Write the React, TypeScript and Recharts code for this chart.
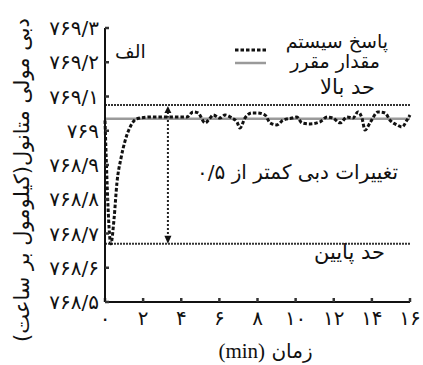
import React from "react";
import { LineChart, Line, XAxis, YAxis, ReferenceLine } from "recharts";

// time (min) and methanol molar flow of the system response
const timeMin = [0, 0.31, 0.47, 0.63, 0.84, 1.05, 1.31, 1.68, 2.36, 4.3, 4.62, 4.88, 5.25, 5.51, 5.67, 6.03, 6.3, 6.66, 6.92, 7.08, 7.34, 7.71, 7.97, 8.39, 8.66, 9.02, 9.34, 9.81, 10.07, 10.33, 10.75, 11.28, 11.65, 11.96, 12.33, 12.7, 13.01, 13.27, 13.48, 13.64, 13.9, 14.32, 14.69, 14.95, 15.32, 15.58, 15.84, 16];
const systemResponse = [769.03, 768.67, 768.74, 768.85, 768.92, 768.97, 769.01, 769.035, 769.04, 769.04, 769.055, 769.052, 769.023, 769.037, 769.046, 769.037, 769.046, 769.037, 769.026, 769.008, 769.037, 769.052, 769.052, 769.046, 769.023, 769.017, 769.031, 769.037, 769.04, 769.023, 769.02, 769.026, 769.04, 769.037, 769.023, 769.04, 769.037, 769.055, 769.037, 769.002, 769.023, 769.055, 769.052, 769.031, 769.017, 769.011, 769.031, 769.046];

const setPoint = 769.035;
const upperLimit = 769.075;
const lowerLimit = 768.67;
const arrowTime = 3.3;

const xTicks = [0, 2, 4, 6, 8, 10, 12, 14, 16];
const yTicks = [768.5, 768.6, 768.7, 768.8, 768.9, 769, 769.1, 769.2, 769.3];

const data = timeMin.map((t, i) => ({ t, response: systemResponse[i], setpoint: setPoint }));

const faDigits = "۰۱۲۳۴۵۶۷۸۹";
const toFa = (v: number, frac = 0) => {
  let s = v.toFixed(frac);
  if (frac > 0) s = s.replace(/\.0+$/, "");
  return s.replace(/[0-9]/g, (d) => faDigits[+d]).replace(".", "/");
};

const FA = "'DejaVu Sans', sans-serif";

const DoubleArrow = (props: any) => {
  const { x1, y1, y2 } = props;
  const top = Math.min(y1, y2);
  const bot = Math.max(y1, y2);
  return (
    <g>
      <line x1={x1} x2={x1} y1={top + 7} y2={bot - 7} stroke="#222" strokeWidth={2} strokeDasharray="2 2" />
      <polygon points={`${x1 - 3.5},${top + 8} ${x1 + 3.5},${top + 8} ${x1},${top + 1}`} fill="#111" />
      <polygon points={`${x1 - 3.5},${bot - 8} ${x1 + 3.5},${bot - 8} ${x1},${bot}`} fill="#111" />
    </g>
  );
};

const YLabel = ({ viewBox }: any) => {
  const cx = viewBox.x + 22;
  const cy = viewBox.y + viewBox.height / 2 + 15;
  return (
    <text x={cx} y={cy} transform={`rotate(-90 ${cx} ${cy})`} textAnchor="middle" dominantBaseline="central"
      direction="rtl" fontFamily={FA} fontSize={21} fill="#111">
      دبی مولی متانول(کیلومول بر ساعت)
    </text>
  );
};

const XLabel = ({ viewBox }: any) => (
  <text x={viewBox.x + viewBox.width / 2 + 8} y={viewBox.y + 49} textAnchor="middle" dominantBaseline="central" fill="#111">
    <tspan fontFamily="'Liberation Serif', serif" fontSize={21}>(min)</tspan>
    <tspan fontFamily={FA} fontSize={20}> زمان</tspan>
  </text>
);

const note = (style: React.CSSProperties): React.CSSProperties => ({
  position: "absolute", fontFamily: FA, direction: "rtl", whiteSpace: "nowrap", color: "#111", ...style,
});

export default function App() {
  return (
    <div style={{ position: "absolute", left: 0, top: 0, width: 423, height: 365, background: "#fff" }}>
      <LineChart width={423} height={365} data={data} margin={{ top: 28, right: 13, left: 0, bottom: 0 }}>
        <XAxis dataKey="t" type="number" domain={[0, 16]} ticks={xTicks} tickFormatter={(v) => toFa(v)}
          height={63} tickSize={-4} tickMargin={13} axisLine={{ stroke: "#111", strokeWidth: 2 }}
          tickLine={{ stroke: "#333", strokeWidth: 2.5 }} tick={{ fill: "#111", fontSize: 20, fontFamily: FA }}
          label={{ content: XLabel }} />
        <XAxis xAxisId="top" orientation="top" dataKey="t" type="number" domain={[0, 16]} ticks={xTicks}
          height={0} tick={false} tickSize={-4} axisLine={{ stroke: "#111", strokeWidth: 2 }}
          tickLine={{ stroke: "#333", strokeWidth: 2.5 }} />
        <YAxis type="number" domain={[768.5, 769.3]} ticks={yTicks} tickFormatter={(v) => toFa(v, 1)}
          width={105} tickSize={-4} tickMargin={10} allowDataOverflow axisLine={{ stroke: "#111", strokeWidth: 2 }}
          tickLine={{ stroke: "#333", strokeWidth: 2.5 }} tick={{ fill: "#111", fontSize: 20, fontFamily: FA }}
          label={{ content: YLabel }} />
        <YAxis yAxisId="right" orientation="right" type="number" domain={[768.5, 769.3]} ticks={yTicks}
          width={0} tick={false} tickSize={-4} axisLine={{ stroke: "#111", strokeWidth: 2 }}
          tickLine={{ stroke: "#333", strokeWidth: 2.5 }} />
        <ReferenceLine y={upperLimit} stroke="#333" strokeWidth={2} strokeDasharray="2 1" />
        <ReferenceLine y={lowerLimit} stroke="#333" strokeWidth={2} strokeDasharray="2 1" />
        <ReferenceLine segment={[{ x: arrowTime, y: lowerLimit }, { x: arrowTime, y: upperLimit }]} shape={DoubleArrow} />
        <Line dataKey="setpoint" type="linear" stroke="#9a9a9a" strokeWidth={2.5} dot={false} isAnimationActive={false} />
        <Line dataKey="response" type="monotone" stroke="#111" strokeWidth={3} strokeDasharray="3.5 2" dot={false} isAnimationActive={false} />
      </LineChart>

      {/* legend */}
      <svg style={{ position: "absolute", left: 235, top: 47 }} width={31} height={6}>
        <line x1={0} x2={31} y1={3} y2={3} stroke="#111" strokeWidth={3} strokeDasharray="3.5 2" />
      </svg>
      <div style={note({ right: 35, top: 30, fontSize: 19, lineHeight: "22px" })}>پاسخ سیستم</div>
      <svg style={{ position: "absolute", left: 235, top: 60 }} width={31} height={6}>
        <line x1={0} x2={31} y1={3} y2={3} stroke="#9a9a9a" strokeWidth={2.5} />
      </svg>
      <div style={note({ right: 43, top: 50, fontSize: 19, lineHeight: "22px" })}>مقدار مقرر</div>

      <div style={note({ left: 115, top: 40, fontSize: 19, lineHeight: "22px", direction: "ltr" })}>الف</div>
      <div style={note({ right: 48, top: 75, fontSize: 21, lineHeight: "24px" })}>حد بالا</div>
      <div style={note({ right: 38, top: 240, fontSize: 21, lineHeight: "24px" })}>حد پایین</div>
      <div style={note({ right: 25, top: 160, fontSize: 20, lineHeight: "24px" })}>تغییرات دبی کمتر از ۰/۵</div>
    </div>
  );
}
